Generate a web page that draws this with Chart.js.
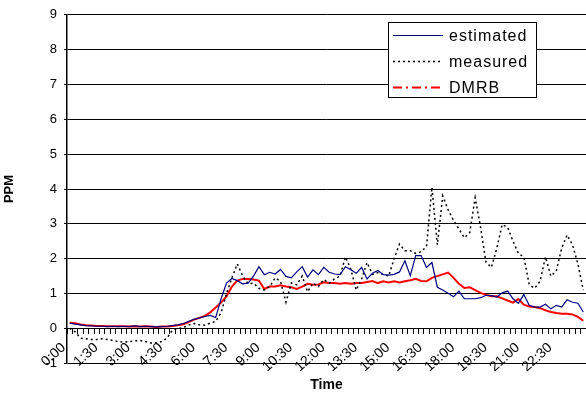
<!DOCTYPE html>
<html>
<head>
<meta charset="utf-8">
<script src="https://cdn.jsdelivr.net/npm/chart.js@4/dist/chart.umd.min.js"></script>
<style>
  body { margin: 0; background: #fff; }
  canvas { display: block; }
</style>
</head>
<body>
<canvas id="ppmChart" width="586" height="394"></canvas>
<script>
// 15 minute samples over one day
const times = [
  '0:00','0:15','0:30','0:45','1:00','1:15','1:30','1:45',
  '2:00','2:15','2:30','2:45','3:00','3:15','3:30','3:45',
  '4:00','4:15','4:30','4:45','5:00','5:15','5:30','5:45',
  '6:00','6:15','6:30','6:45','7:00','7:15','7:30','7:45',
  '8:00','8:15','8:30','8:45','9:00','9:15','9:30','9:45',
  '10:00','10:15','10:30','10:45','11:00','11:15','11:30','11:45',
  '12:00','12:15','12:30','12:45','13:00','13:15','13:30','13:45',
  '14:00','14:15','14:30','14:45','15:00','15:15','15:30','15:45',
  '16:00','16:15','16:30','16:45','17:00','17:15','17:30','17:45',
  '18:00','18:15','18:30','18:45','19:00','19:15','19:30','19:45',
  '20:00','20:15','20:30','20:45','21:00','21:15','21:30','21:45',
  '22:00','22:15','22:30','22:45','23:00','23:15','23:30','23:45'
];
const tickLabels = ['0:00','1:30','3:00','4:30','6:00','7:30','9:00','10:30',
  '12:00','13:30','15:00','16:30','18:00','19:30','21:00','22:30'];

const estimated = [
  0.15,0.12,0.10,0.08,0.07,0.06,0.06,0.05,
  0.06,0.05,0.06,0.05,0.07,0.05,0.06,0.05,
  0.04,0.05,0.06,0.08,0.10,0.14,0.20,0.26,
  0.30,0.34,0.37,0.31,0.85,1.30,1.43,1.37,
  1.28,1.30,1.50,1.77,1.54,1.61,1.56,1.69,
  1.49,1.45,1.62,1.77,1.47,1.68,1.54,1.75,
  1.61,1.56,1.54,1.77,1.68,1.58,1.75,1.42,
  1.58,1.66,1.54,1.53,1.55,1.62,1.94,1.51,
  2.09,2.09,1.75,1.89,1.18,1.10,1.01,0.91,
  1.07,0.85,0.85,0.85,0.88,0.95,0.94,0.90,
  1.02,1.07,0.85,0.72,0.97,0.66,0.61,0.61,
  0.69,0.56,0.66,0.61,0.82,0.75,0.72,0.47
];
const measured = [
  0.00,-0.10,-0.28,-0.30,-0.32,-0.32,-0.30,-0.32,
  -0.35,-0.38,-0.40,-0.38,-0.36,-0.35,-0.38,-0.42,
  -0.42,-0.38,-0.28,-0.05,0.00,0.02,0.10,0.14,
  0.10,0.09,0.15,0.20,0.45,1.00,1.45,1.85,
  1.50,1.28,1.30,1.15,1.10,1.20,1.45,1.35,
  0.75,1.30,1.25,1.50,1.05,1.30,1.20,1.40,
  1.30,1.42,1.50,2.05,1.70,1.10,1.42,1.89,
  1.55,1.60,1.55,1.50,2.00,2.42,2.23,2.23,
  2.15,2.20,2.35,4.05,2.40,3.80,3.40,3.10,
  2.85,2.60,2.75,3.75,2.90,1.90,1.75,2.30,
  2.98,2.90,2.50,2.15,2.05,1.25,1.15,1.35,
  2.05,1.50,1.65,2.30,2.68,2.40,1.85,1.10
];
const dmrb = [
  0.16,0.15,0.11,0.09,0.08,0.07,0.07,0.06,
  0.06,0.06,0.06,0.05,0.06,0.05,0.06,0.05,
  0.04,0.05,0.05,0.07,0.09,0.12,0.18,0.25,
  0.30,0.36,0.46,0.60,0.74,0.92,1.20,1.37,
  1.42,1.42,1.40,1.37,1.13,1.20,1.20,1.24,
  1.20,1.18,1.13,1.20,1.28,1.25,1.26,1.32,
  1.30,1.30,1.28,1.30,1.28,1.30,1.30,1.33,
  1.36,1.30,1.35,1.32,1.35,1.32,1.35,1.38,
  1.42,1.36,1.35,1.45,1.50,1.55,1.60,1.45,
  1.28,1.16,1.18,1.10,1.02,0.96,0.92,0.92,
  0.86,0.80,0.74,0.84,0.68,0.63,0.61,0.58,
  0.52,0.47,0.44,0.42,0.42,0.40,0.33,0.22
];

const fontFamily = '"Liberation Sans", Arial, sans-serif';

// legend drawn as a boxed key inside the plot, top right
const boxedLegend = {
  id: 'boxedLegend',
  afterDraw(chart) {
    const ctx = chart.ctx;
    const legendDash = [[], [2, 3], [9, 4, 2, 4]];
    ctx.save();
    ctx.fillStyle = '#fff';
    ctx.fillRect(388, 22, 148, 75);
    ctx.strokeStyle = '#000';
    ctx.lineWidth = 1;
    ctx.strokeRect(388.5, 22.5, 148, 75);
    ctx.font = '16px ' + fontFamily;
    ctx.textBaseline = 'middle';
    ctx.letterSpacing = '1px';
    chart.data.datasets.forEach((ds, i) => {
      const y = 35.5 + i * 26;
      ctx.beginPath();
      ctx.setLineDash(legendDash[i]);
      ctx.strokeStyle = ds.borderColor;
      ctx.lineWidth = ds.borderWidth;
      ctx.moveTo(393, y);
      ctx.lineTo(443, y);
      ctx.stroke();
      ctx.setLineDash([]);
      ctx.fillStyle = '#000';
      ctx.fillText(ds.label, 449, y + 1);
    });
    ctx.restore();
  }
};

new Chart(document.getElementById('ppmChart'), {
  type: 'line',
  data: {
    labels: times,
    datasets: [
      { label: 'estimated', data: estimated, borderColor: '#000080', borderWidth: 1.2,
        pointRadius: 0, tension: 0 },
      { label: 'measured', data: measured, borderColor: '#000', borderWidth: 1.5,
        borderDash: [2, 3], pointRadius: 0, tension: 0 },
      { label: 'DMRB', data: dmrb, borderColor: '#ff0000', borderWidth: 2,
        pointRadius: 0, tension: 0 }
    ]
  },
  options: {
    responsive: false,
    animation: false,
    layout: { padding: { top: 13, right: 0, left: 0, bottom: 0 } },
    plugins: {
      legend: { display: false },
      tooltip: { enabled: false },
      title: {
        display: true,
        position: 'bottom',
        fullSize: false,
        text: 'Time',
        color: '#000',
        font: { family: fontFamily, size: 14, weight: 'bold' },
        padding: { top: 14, bottom: 0 }
      }
    },
    scales: {
      x: {
        position: { y: 0 },
        offset: true,
        afterFit: function (scale) { scale.paddingLeft = 0; scale.paddingRight = 0; },
        grid: { display: true, offset: true, drawOnChartArea: false, drawTicks: true,
          tickLength: 5, tickColor: '#000' },
        border: { display: true, color: '#000', width: 1 },
        ticks: {
          autoSkip: false,
          minRotation: 42,
          maxRotation: 42,
          padding: 6,
          labelOffset: -6,
          color: '#000',
          font: { family: fontFamily, size: 14 },
          callback: function (value, index) {
            const lbl = times[index];
            return tickLabels.includes(lbl) ? lbl : '';
          }
        }
      },
      y: {
        min: -1,
        max: 9,
        afterFit: function (scale) { scale.width = 67; },
        grid: { color: '#000', lineWidth: 1, tickLength: 3, tickColor: '#000' },
        border: { display: true, color: '#000', width: 1.5 },
        ticks: {
          stepSize: 1,
          padding: 7,
          color: '#000',
          font: { family: fontFamily, size: 13 }
        },
        title: {
          display: true,
          text: 'PPM',
          color: '#000',
          font: { family: fontFamily, size: 13, weight: 'bold' },
          padding: { top: 2, bottom: 0 }
        }
      }
    }
  },
  plugins: [boxedLegend]
});
</script>
</body>
</html>
